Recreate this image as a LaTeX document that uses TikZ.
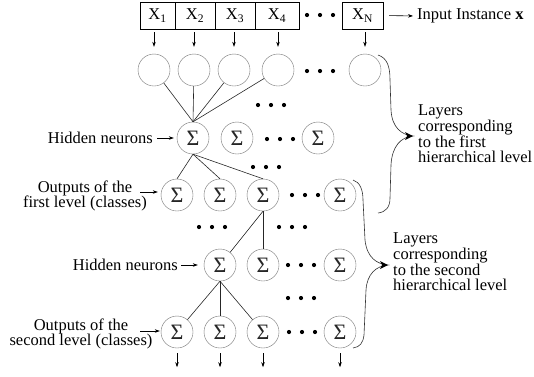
\documentclass[tikz,border=0pt]{standalone}
\usepackage{fontspec}
\setmainfont{Liberation Serif}
\usetikzlibrary{arrows.meta}
\begin{document}
\begin{tikzpicture}[x=1pt,y=-1pt,
  font=\fontsize{16.5}{15.7}\selectfont,
  inbox/.style={draw,rectangle,minimum height=27pt,inner sep=0pt},
  neuron/.style={draw=black!55,circle,minimum size=32pt,inner sep=0pt},
  sneuron/.style={neuron,font=\fontsize{22}{22}\selectfont,text=black!85},
  link/.style={draw=black!85,line width=0.6pt},
  arr/.style={draw=black,line width=0.6pt,-{Stealth[length=5pt,width=3.5pt]}},
  brace/.style={draw=black!80,line width=0.6pt},
  lbl/.style={inner sep=0pt,align=center},
]
\useasboundingbox (0,0) rectangle (534,376);
\newcommand{\tridots}[2]{\foreach \k in {-13,0,13}{\fill (#1+\k,#2) circle (2.1pt);}}

% input boxes
\node[inbox,minimum width=35pt] (x1) at (157.5,15.5) {X\textsubscript{1}};
\node[inbox,minimum width=40pt] (x2) at (195,15.5) {X\textsubscript{2}};
\node[inbox,minimum width=40pt] (x3) at (235,15.5) {X\textsubscript{3}};
\node[inbox,minimum width=44pt] (x4) at (277,15.5) {X\textsubscript{4}};
\node[inbox,minimum width=41pt] (xN) at (362.5,15.5) {X\textsubscript{N}};
\tridots{320}{15}
\node[lbl,anchor=west] (inst) at (417,16) {Input Instance \textbf{x}};
\draw[arr,shorten <=6pt,shorten >=4pt] (xN.east) -- (inst.west);

% input neurons
\node[neuron] (i1) at (154,70) {};
\node[neuron] (i2) at (194,70) {};
\node[neuron] (i3) at (234,70) {};
\node[neuron] (i4) at (278,70) {};
\node[neuron] (iN) at (365,70) {};
\tridots{320}{71}
\foreach \n/\b in {i1/x1,i2/x2,i3/x3,i4/x4,iN/xN}
  \draw[arr,shorten <=3pt,shorten >=7pt] (\n.north |- \b.south) -- (\n.north);

% hidden layer 1
\node[sneuron] (h1) at (193,138) {Σ};
\node[sneuron] (h2) at (237,138) {Σ};
\node[sneuron] (hN) at (318,138) {Σ};
\tridots{271}{105}
\tridots{280}{139}
\foreach \n in {i1,i2,i3,i4} \draw[link] (\n) -- (h1.north);
\node[lbl,anchor=east] (hl1) at (153,138) {Hidden neurons};
\draw[arr,shorten <=4pt,shorten >=3pt] (hl1.east) -- (h1.west);

% outputs first level
\node[sneuron] (o1) at (177,195) {Σ};
\node[sneuron] (o2) at (220,195) {Σ};
\node[sneuron] (o3) at (263,195) {Σ};
\node[sneuron] (oN) at (340,195) {Σ};
\tridots{266}{167}
\tridots{305}{195}
\foreach \n in {o1,o2,o3} \draw[link] (h1.south) -- (\n.north);
\node[lbl] (ol1) at (85,196) {Outputs of the\\first level (classes)};
\draw[arr,shorten >=3pt] ([xshift=-7pt,yshift=4pt]ol1.east) -- (o1.west |- 0,192);

% hidden layer 2
\node[sneuron] (g1) at (220,265) {Σ};
\node[sneuron] (g2) at (263,265) {Σ};
\node[sneuron] (gN) at (340,265) {Σ};
\tridots{212}{227}
\tridots{292}{227}
\tridots{301}{265}
\tridots{301}{298}
\draw[link] (o3.south) -- (g1);
\draw[link] (o3.south) -- (g2.north);
\node[lbl,anchor=east] (hl2) at (178,265) {Hidden neurons};
\draw[arr,shorten <=3pt,shorten >=6pt] (hl2.east) -- (g1.west);

% outputs second level
\node[sneuron] (p1) at (177,332) {Σ};
\node[sneuron] (p2) at (220,332) {Σ};
\node[sneuron] (p3) at (263,332) {Σ};
\node[sneuron] (pN) at (340,332) {Σ};
\tridots{302}{332}
\draw[link] (g1.south) -- (p1);
\draw[link] (g1.south) -- (p2.north);
\draw[link] (g1.south) -- (p3);
\node[lbl] (ol2) at (81,334) {Outputs of the\\second level (classes)};
\draw[arr,shorten >=1pt] ([xshift=-12.5pt,yshift=3pt]ol2.east) -- (p1.west |- 0,331);
\foreach \n in {p1,p2,p3,pN}
  \draw[arr] ([yshift=-5pt]\n.south) -- ([yshift=-19pt]\n.south);

% braces
\coordinate (t1) at (413,136);
\draw[brace] (378,55) .. controls (387,58) and (390,66) .. (390,80) -- (391,110)
  .. controls (392,128) and (402,135) .. (t1)
  .. controls (401,137) and (392,146) .. (391,165) -- (390,198)
  .. controls (390,207) and (386,212) .. (378,213);
\fill (t1) -- ++(-8,-4) -- ++(2,4) -- ++(-2,4) -- cycle;
\node[lbl,align=left,anchor=west] (L1) at (418,134) {Layers\\corresponding\\to the first\\hierarchical level};

\coordinate (t2) at (388,265);
\draw[brace] (353,180) .. controls (360,182) and (363,190) .. (363,200) -- (365,240)
  .. controls (367,258) and (377,264) .. (t2)
  .. controls (376,266) and (367,274) .. (366,290) -- (364,335)
  .. controls (363,343) and (360,347) .. (353,348);
\fill (t2) -- ++(-8,-4) -- ++(2,4) -- ++(-2,4) -- cycle;
\node[lbl,align=left,anchor=west] (L2) at (393,262) {Layers\\corresponding\\to the second\\hierarchical level};
\end{tikzpicture}
\end{document}
